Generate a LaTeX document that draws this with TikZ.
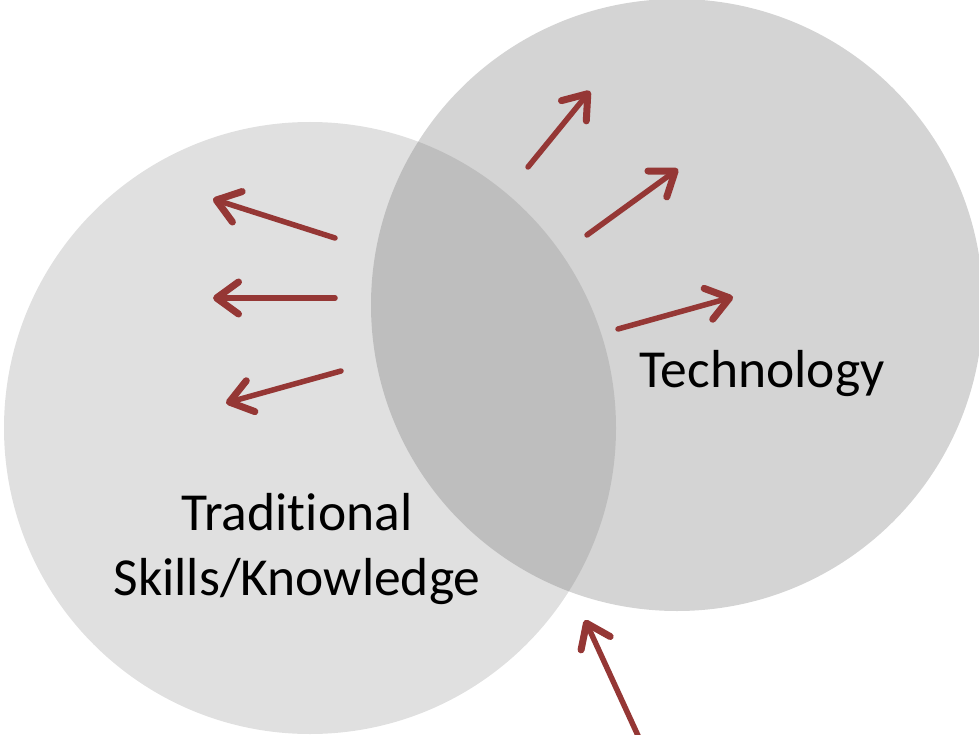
\documentclass[tikz,border=0pt]{standalone}
\usepackage{fontspec}
\setmainfont{Carlito}[Ligatures=NoCommon]
\usetikzlibrary{arrows.meta}

\definecolor{pushred}{HTML}{953735}
\definecolor{oldgray}{HTML}{E0E0E0}

\tikzset{
  blob/.style={circle,inner sep=0pt,minimum size=612pt},
  venntext/.style={font=\fontsize{53.5}{65}\selectfont,align=center,inner sep=0pt},
  push/.style={draw=pushred,line width=5.5pt,line cap=round,
    -{Straight Barb[length=22pt,width=32pt,line width=7pt,round]}}
}

\begin{document}
\begin{tikzpicture}[x=1pt,y=-1pt]
  \useasboundingbox (0,0) rectangle (979,735);
  \node (trad) [blob,fill=oldgray] at (310,428) {};
  \node (tech) [blob,fill=black!53,fill opacity=0.32] at (677,305) {};

  \node (tradtext) [venntext,anchor=base] at (297,595) {Traditional\\Skills/Knowledge};
  \node (techtext) [venntext,anchor=base] at (762,387) {Technology};

  % arrow ends
  \coordinate (l1a) at (335,238); \coordinate (l1b) at (213,199);
  \coordinate (l2a) at (335,298); \coordinate (l2b) at (213,298);
  \coordinate (l3a) at (341,371); \coordinate (l3b) at (226,403);
  \coordinate (r1a) at (528,167); \coordinate (r1b) at (590,91);
  \coordinate (r2a) at (587,235); \coordinate (r2b) at (678,169);
  \coordinate (r3a) at (618,329); \coordinate (r3b) at (733,297);
  \coordinate (b1a) at (640,740); \coordinate (b1b) at (585,620);

  \path[push]
    (l1a) edge (l1b)
    (l2a) edge (l2b)
    (l3a) edge (l3b)
    (r1a) edge (r1b)
    (r2a) edge (r2b)
    (r3a) edge (r3b)
    (b1a) edge (b1b);
\end{tikzpicture}
\end{document}
